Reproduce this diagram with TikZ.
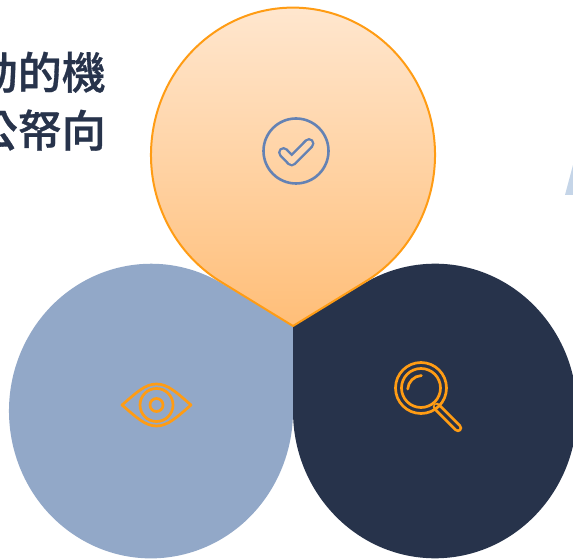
\documentclass[tikz,border=0pt]{standalone}
\usepackage{fontspec}
\newfontfamily\cjk[FakeBold=0.7]{Noto Sans CJK TC Medium}
\definecolor{ink}{HTML}{27334B}
\definecolor{steel}{HTML}{92A8C8}
\definecolor{amber}{HTML}{FF9C14}
\definecolor{peachtop}{HTML}{FFE9D4}
\definecolor{peachbot}{HTML}{FFBE78}
\definecolor{peachmid}{HTML}{FFD8B0}
\definecolor{checkblue}{HTML}{6482B4}
\definecolor{pale}{HTML}{C5D5E8}
\tikzset{
  headline/.style={anchor=base east,inner sep=0pt,text=ink,font=\cjk\fontsize{44}{44}\selectfont},
  iconline/.style={amber,line width=2.7pt},
}
\begin{document}
\begin{tikzpicture}[x=1pt,y=1pt]
\useasboundingbox (0,0) rectangle (573,559);
\clip (0,0) rectangle (573,559);
\fill[white] (0,0) rectangle (573,559);
\node[headline] (line1) at (106,470) {動的機};
\node[headline] (line2) at (106,412) {公帑向};
\fill[pale] (565,364) -- (573,394) -- (573,364) -- cycle;
% petals
\fill[steel] (293,233) -- (222,275.5) arc[start angle=60,end angle=360,x radius=142,y radius=147.3] -- cycle;
\fill[ink] (293,233) -- (293,148) arc[start angle=180,end angle=480,x radius=142,y radius=147.3] -- cycle;
\shade[top color=peachtop,bottom color=peachbot,draw=amber,line width=2pt,line join=round]
  (293,233) -- (364,276.5) arc[start angle=-60,end angle=240,x radius=142,y radius=147.3] -- cycle;
% check icon
\draw[checkblue,line width=2.6pt] (296,408) circle[radius=32.5];
\draw[checkblue,line width=11pt,line cap=round,line join=round] (283.5,406.5) -- (291.7,398) -- (309,415.5);
\draw[peachmid,line width=6pt,line cap=round,line join=round] (283.5,406.5) -- (291.7,398) -- (309,415.5);
% eye icon
\draw[iconline,line join=round] (122,154) .. controls (136,166) and (145,175) .. (156.5,175) .. controls (168,175) and (177,166) .. (191,154) .. controls (177,142) and (168,133) .. (156.5,133) .. controls (145,133) and (136,142) .. (122,154) -- cycle;
\draw[iconline] (156.5,154) circle[radius=16.5];
\draw[iconline] (156.5,154) circle[radius=6.5];
% magnifier icon
\draw[amber,line width=8.5pt,line cap=round] (437,152) -- (458,131);
\draw[ink,line width=3pt,line cap=round] (436,153) -- (458,131);
\draw[iconline] (421,171) circle[radius=25.5];
\draw[iconline] (421,171) circle[radius=19.5];
\draw[iconline,line cap=round] (407.7,170) arc[start angle=176,end angle=93,radius=14.5];
\end{tikzpicture}
\end{document}
